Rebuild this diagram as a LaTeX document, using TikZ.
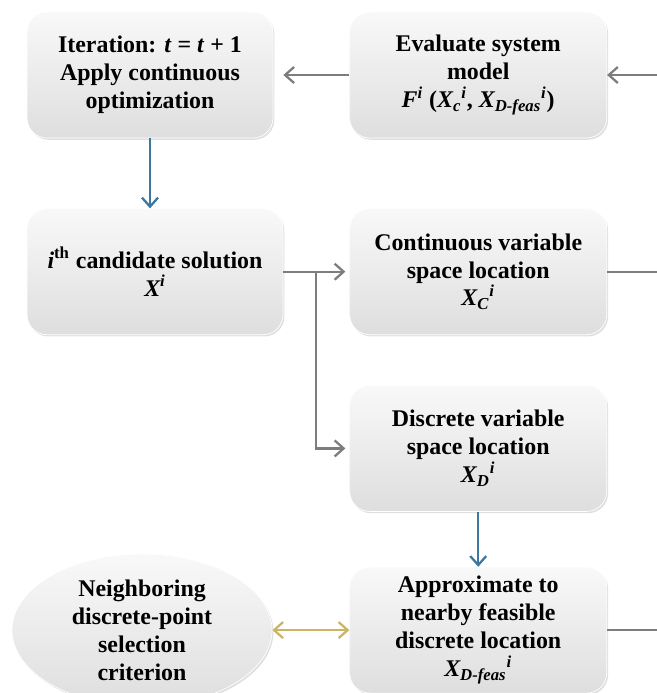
\documentclass[tikz,border=0pt]{standalone}
\usepackage{fontspec}
\setmainfont{Liberation Serif}
\usepackage{tikz}
\usetikzlibrary{arrows.meta, positioning, shadows, shapes.geometric}
\definecolor{boxfill}{RGB}{222,222,222}
\definecolor{flow}{RGB}{125,125,125}
\definecolor{down}{RGB}{58,120,160}
\definecolor{pair}{RGB}{205,180,100}
\newcommand{\vsub}[3]{\textit{#1\textsubscript{#2}\textsuperscript{#3}}}

\begin{document}
\begin{tikzpicture}[
    box/.style={rectangle, rounded corners=0.4cm, draw=white, top color=gray!5,
                bottom color=boxfill, align=center,
                drop shadow={opacity=0.25, shadow xshift=0.8pt, shadow yshift=-1pt},
                font=\fontsize{13.6}{15.9}\selectfont\bfseries,
                minimum width=5.14cm, minimum height=2.52cm, inner sep=2pt},
    oval/.style={box, ellipse, minimum width=5.2cm, minimum height=2.54cm},
    ar/.style={-{Straight Barb[length=1.8mm, width=3.2mm]}, draw=flow, line width=1.3pt},
    ln/.style={draw=flow, line width=1.3pt},
    dn/.style={ar, draw=down},
    both/.style={{Straight Barb[length=1.8mm, width=3.2mm]}-{Straight Barb[length=1.8mm, width=3.2mm]},
                draw=pair, line width=1.3pt}
]
\useasboundingbox (0,0) rectangle (13.14,-13.86);
\node[box, minimum width=4.92cm] (iter) at (3.0,-1.5)
    {Iteration: \textit{t} = \textit{t} + 1\\Apply continuous\\optimization};
\node[box, right=1.52cm of iter] (eval)
    {Evaluate system\\model\\\textit{F\textsuperscript{i}} (\vsub{X}{c}{i}, \vsub{X}{D-feas}{i})};
\node[box, minimum width=5.12cm, below right=1.4cm and 0cm of iter.south west] (cand)
    {\textit{i}\textsuperscript{th} candidate solution\\\textit{X\textsuperscript{i}}};
\node[box, right=1.32cm of cand] (cont)
    {Continuous variable\\space location\\\vsub{X}{C}{i}};
\node[box, below=1.0cm of cont] (disc)
    {Discrete variable\\space location\\\vsub{X}{D}{i}};
\node[box, below=1.1cm of disc] (appr)
    {Approximate to\\nearby feasible\\discrete location\\\vsub{X}{D-feas}{i}};
\node[oval, left=1.54cm of appr] (crit)
    {Neighboring\\discrete-point\\selection\\criterion};

% loop ends at the right edge
\coordinate[right=1.02cm of eval.east] (evin);
\coordinate[right=1.02cm of cont.east] (cout);
\coordinate[right=1.02cm of appr.east] (aout);
\coordinate[right=0.66cm of cand.east] (fork);

\draw[ar] (evin) -- (eval);
\draw[ar, shorten >=0.2cm] (eval) -- (iter);
\draw[dn] (iter.south) -- (iter.south |- cand.north);
\draw[ar, shorten >=0.08cm] (cand) -- (cont);
\draw[ar, shorten >=0.08cm] (fork) |- (disc.west);
\draw[ln] (cont) -- (cout);
\draw[dn] (disc) -- (appr);
\draw[ln] (appr) -- (aout);
\draw[both] (crit) -- (appr);
\end{tikzpicture}
\end{document}
